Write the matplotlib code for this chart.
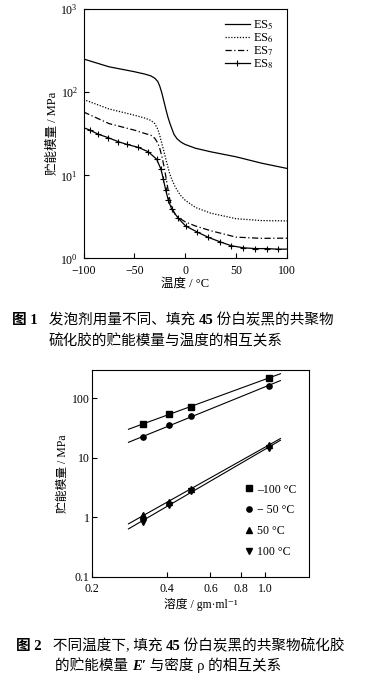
import matplotlib
matplotlib.use("Agg")
import matplotlib.pyplot as plt
import numpy as np

plt.rcParams['font.family'] = ['Liberation Serif', 'Noto Sans CJK SC', 'DejaVu Sans']
plt.rcParams['mathtext.fontset'] = 'stix'

# ---- Fig. 1 data: storage modulus (MPa) vs temperature (C)
t_es5 = [-100, -75, -50, -40, -34, -30, -27, -25, -23, -21, -19, -17, -15, -13, -11, -8, -4, 0, 10, 25, 50, 75, 100]
e_es5 = [252, 203, 177, 166, 158, 148, 135, 118, 98, 78, 62, 50, 42, 36, 31, 27.5, 25, 23.5, 21.2, 19.2, 16.7, 14, 12.1]

t_es6 = [-100, -75, -50, -40, -34, -30, -27, -25, -23, -21, -19, -17, -15, -13, -10, -5, 0, 10, 25, 50, 75, 100]
e_es6 = [82, 63, 53, 49, 46, 42, 36, 30, 24, 19.5, 15.5, 12.5, 10.2, 8.8, 7.3, 5.8, 5.0, 4.1, 3.5, 3.0, 2.85, 2.82]

t_es7 = [-100, -75, -50, -40, -34, -30, -27, -25, -23, -21, -19, -17, -15, -13, -10, -5, 0, 10, 25, 50, 75, 100]
e_es7 = [58, 42, 35, 32, 30.5, 28, 24.5, 21, 17, 13, 9.5, 6.8, 5.0, 4.0, 3.4, 3.0, 2.75, 2.45, 2.15, 1.8, 1.74, 1.75]

t_es8 = [-100, -93.6, -85.4, -75.6, -65.8, -57.5, -46.1, -36.3, -28.1, -23.8, -21.6, -19.2, -16.7, -13.3,
         -6.8, 0.4, 11.2, 22.6, 34.2, 45, 57, 68.6, 80, 90.9, 100]
e_es8 = [37.5, 35, 31.2, 28.4, 25.4, 23.6, 21.7, 19.2, 15.6, 11.8, 9.0, 6.65, 5.04, 3.9,
         3.03, 2.45, 2.09, 1.79, 1.58, 1.42, 1.34, 1.31, 1.31, 1.29, 1.29]

# ---- Fig. 2 data: storage modulus (MPa) vs density (g/ml)
density = [0.32, 0.41, 0.50, 1.03]
e_m100 = [36.7, 55, 73, 219]
e_m50 = [22.3, 35.3, 50, 163]
e_p50 = [1.12, 1.8, 3.0, 16.6]
e_p100 = [0.85, 1.65, 2.75, 14.8]

fig = plt.figure(figsize=(3.69, 6.78), dpi=100)

# ================= Fig. 1
ax1 = fig.add_axes([0.2263, 0.619, 0.5515, 0.3673])
lw = 0.9
ax1.plot(t_es5, e_es5, color='black', lw=lw, label='ES$_5$')
ax1.plot(t_es6, e_es6, color='black', lw=lw, ls=(0, (1, 1.3)), label='ES$_6$')
ax1.plot(t_es7, e_es7, color='black', lw=lw, ls=(0, (5, 2, 1, 2)), label='ES$_7$')
ax1.plot(t_es8, e_es8, color='black', lw=lw, marker='+', ms=5, mew=0.8,
         markevery=slice(1, -1), label='ES$_8$')
ax1.set_yscale('log')
ax1.set_xlim(-100, 100)
ax1.set_ylim(1, 1000)
ax1.set_xticks([-100, -50, 0, 50, 100])
ax1.set_xticklabels(['\u2212100', '\u221250', '0', '50', '100'])
ax1.minorticks_off()
ax1.tick_params(direction='in', length=3.5, labelsize=8.5, width=0.8)
ax1.tick_params(axis='x', pad=5)
ax1.tick_params(axis='y', pad=4)
ax1.set_xlabel('温度 / °C', fontsize=9, labelpad=0)
ax1.set_ylabel('贮能模量 / MPa', fontsize=9, labelpad=1)
ax1.legend(loc='upper right', bbox_to_anchor=(0.98, 1.0), frameon=False, fontsize=9,
           handlelength=2.0, handletextpad=0.3, labelspacing=-0.05, borderpad=0.2)
for s in ax1.spines.values():
    s.set_linewidth(0.8)

# ================= Fig. 2
ax2 = fig.add_axes([0.2501, 0.149, 0.5873, 0.3053])
xfit = np.array([0.28, 1.15])
series = [(e_m100, 's', '\u2013100 °C'), (e_m50, 'o', '\u2212 50 °C'),
          (e_p50, '^', '50 °C'), (e_p100, 'v', '100 °C')]
for vals, mk, lab in series:
    ax2.plot(density, vals, ls='none', marker=mk, color='black', ms=3.8, label=lab)
    k, b = np.polyfit(np.log10(density), np.log10(vals), 1)
    ax2.plot(xfit, 10 ** (b + k * np.log10(xfit)), color='black', lw=0.8)
ax2.set_xscale('log')
ax2.set_yscale('log')
ax2.set_xlim(0.2, 1.5)
ax2.set_ylim(0.1, 300)
ax2.minorticks_off()
ax2.set_xticks([0.2, 0.4, 0.6, 0.8, 1.0])
ax2.set_xticklabels(['0.2', '0.4', '0.6', '0.8', '1.0'])
ax2.set_yticks([0.1, 1, 10, 100])
ax2.set_yticklabels(['0.1', '1', '10', '100'])
ax2.tick_params(direction='in', length=3.5, labelsize=8.5, width=0.8, pad=2)
ax2.tick_params(axis='x', pad=4)
ax2.set_xlabel('溶度 / gm·ml\u207b\u00b9', fontsize=8.5, labelpad=2)
ax2.set_ylabel('贮能模量 / MPa', fontsize=8.5, labelpad=2)
ax2.legend(loc='lower right', bbox_to_anchor=(0.99, 0.04), frameon=False, fontsize=8.5,
           handlelength=0.8, handletextpad=0.3, labelspacing=0.75)
for s in ax2.spines.values():
    s.set_linewidth(0.8)


# ================= captions
def chain(x, y, pieces):
    first, kw = pieces[0]
    t = fig.text(x, y, first, va='bottom', ha='left', fontsize=10.5, **kw)
    for s, kw in pieces[1:]:
        t = ax2.annotate(s, xy=(1, 0), xycoords=t, va='bottom', ha='left',
                         fontsize=10.5, annotation_clip=False, **kw)


bold = {'fontweight': 'bold'}
plain = {}
chain(12 / 369, 1 - 327 / 678, [('图 1', bold), ('   发泡剂用量不同、填充 ', plain), ('45', bold),
                                 (' 份白炭黑的共聚物', plain)])
chain(49 / 369, 1 - 348 / 678, [('硫化胶的贮能模量与温度的相互关系', plain)])
chain(16 / 369, 1 - 653 / 678, [('图 2', bold), ('   不同温度下, 填充 ', plain), ('45', bold),
                                 (' 份白炭黑的共聚物硫化胶', plain)])
chain(55 / 369, 1 - 673 / 678, [('的贮能模量 ', plain),
                                 ('E\u2032', {'fontweight': 'bold', 'fontstyle': 'italic'}),
                                 (' 与密度 ρ 的相互关系', plain)])

fig.savefig('out.png', dpi=100)
